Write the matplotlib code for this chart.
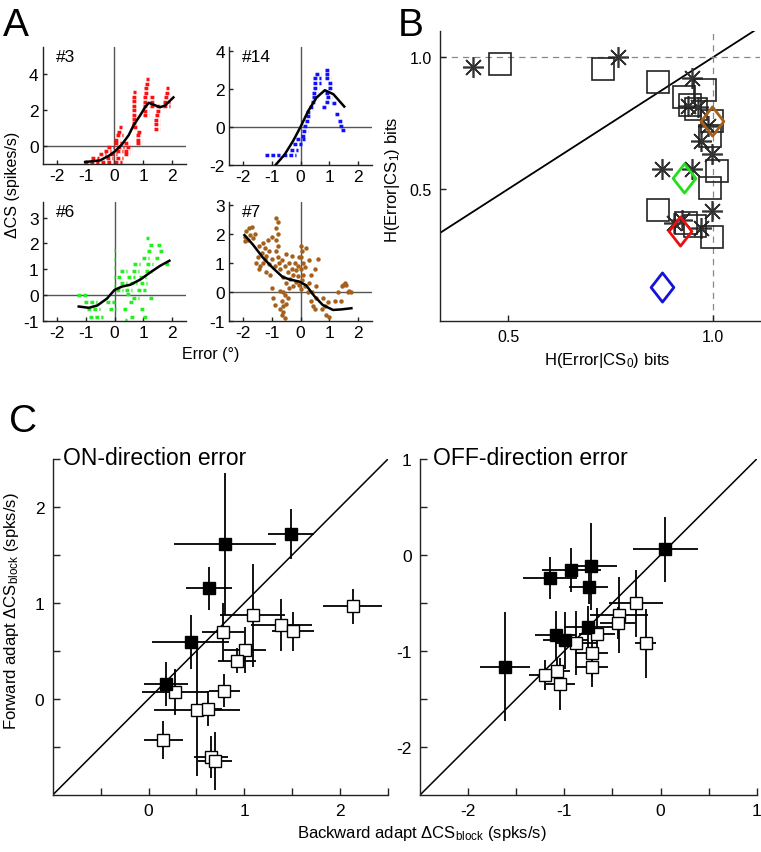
import matplotlib
matplotlib.use("Agg")
import matplotlib.pyplot as plt
from matplotlib.path import Path

plt.rcParams['font.family'] = ['Liberation Sans', 'DejaVu Sans']
plt.rcParams['mathtext.fontset'] = 'custom'
plt.rcParams['mathtext.rm'] = 'Liberation Sans'
plt.rcParams['mathtext.it'] = 'Liberation Sans:italic'
plt.rcParams['xtick.direction'] = 'in'
plt.rcParams['ytick.direction'] = 'in'
plt.rcParams['axes.unicode_minus'] = False

# ---------------- Panel A data ----------------
# dot rows (x start, x end, y) and smoothed curves
rows_3 = [(-1.05, -0.55, -0.88), (-0.45, -0.1, -0.88), (0.0, 0.25, -0.88),
          (-0.8, -0.55, -0.65), (-0.3, -0.05, -0.65), (0.05, 0.3, -0.65),
          (-0.55, -0.3, -0.45), (-0.15, 0.1, -0.45), (0.35, 0.55, -0.45),
          (-0.35, -0.1, -0.25), (0.05, 0.3, -0.25), (0.35, 0.55, -0.25),
          (-0.25, 0.0, -0.05), (0.1, 0.35, -0.05), (0.4, 0.6, -0.05),
          (0.0, 0.25, 0.15), (0.35, 0.55, 0.15), (0.75, 0.9, 0.15),
          (0.0, 0.2, 0.35), (0.75, 0.95, 0.35), (0.05, 0.3, 0.6), (0.75, 0.9, 0.6),
          (0.1, 0.25, 0.8), (0.8, 0.95, 0.8), (0.15, 0.25, 1.05), (0.65, 0.8, 1.05),
          (0.6, 0.8, 1.3), (0.6, 0.75, 1.5), (0.6, 0.75, 1.75), (0.6, 0.75, 2.0),
          (0.6, 0.75, 2.25), (0.6, 0.75, 2.5), (0.62, 0.75, 2.75), (0.65, 0.75, 3.0),
          (1.0, 1.2, 1.7), (1.0, 1.2, 1.95), (1.0, 1.2, 2.2), (1.0, 1.2, 2.45),
          (1.0, 1.2, 2.7), (1.05, 1.2, 2.95), (1.05, 1.2, 3.2), (1.08, 1.2, 3.45),
          (1.1, 1.2, 3.75), (1.25, 1.4, 2.2), (1.25, 1.4, 2.45), (1.25, 1.4, 2.7),
          (1.4, 1.6, 0.95), (1.4, 1.6, 1.2), (1.4, 1.6, 1.45), (1.42, 1.6, 1.7),
          (1.45, 1.6, 1.95), (1.45, 1.6, 2.2), (1.7, 1.95, 2.2), (1.7, 1.95, 2.45),
          (1.72, 1.95, 2.7), (1.75, 1.9, 2.95), (1.8, 1.9, 3.2)]
curve_3_x = [-1.02, -0.5, -0.2, 0.02, 0.26, 0.5, 0.67, 0.9, 1.07, 1.2, 1.36, 1.59, 1.77, 2.06]
curve_3_y = [-0.89, -0.8, -0.55, -0.3, 0.08, 0.6, 1.15, 1.7, 2.15, 2.4, 2.3, 2.15, 2.25, 2.7]

rows_14 = [(-1.25, -0.7, -1.45), (-0.6, -0.15, -1.45), (-0.35, -0.1, -1.2),
           (-0.25, 0.05, -0.9), (-0.15, 0.15, -0.65), (0.0, 0.2, -0.45),
           (0.05, 0.25, -0.2), (0.1, 0.25, 0.05), (0.15, 0.3, 0.3),
           (0.2, 0.35, 0.55), (0.2, 0.35, 0.8), (0.3, 0.45, 1.05), (0.75, 0.9, 1.05),
           (0.35, 0.5, 1.3), (0.85, 1.05, 1.3), (0.4, 0.6, 1.55), (0.9, 1.1, 1.55),
           (0.4, 0.6, 1.8), (0.85, 1.05, 1.8), (0.45, 0.65, 2.05), (0.95, 1.15, 2.05),
           (0.45, 0.7, 2.3), (0.95, 1.15, 2.3), (0.45, 0.7, 2.55), (0.85, 1.05, 2.55),
           (0.5, 0.7, 2.8), (0.85, 1.0, 2.8), (0.85, 1.0, 3.0), (1.1, 1.25, 1.25),
           (1.2, 1.35, 0.7), (1.3, 1.45, 0.3), (1.35, 1.5, 0.05), (1.4, 1.55, -0.15)]
curve_14_x = [-0.9, -0.55, -0.26, 0.0, 0.27, 0.56, 0.85, 1.15, 1.53]
curve_14_y = [-2.05, -1.44, -0.74, 0.0, 0.84, 1.54, 1.93, 1.72, 1.07]

rows_6 = [(-1.3, -0.9, 0.0), (-1.05, -0.6, -0.27), (-0.3, 0.0, -0.27), (0.5, 0.7, -0.27),
          (-0.95, -0.5, -0.55), (-0.2, 0.05, -0.55), (0.3, 0.5, -0.55), (0.9, 1.1, -0.55),
          (-0.9, -0.4, -0.85), (0.55, 0.7, -0.85), (1.0, 1.2, -0.85),
          (-0.03, 0.03, 1.75), (-0.03, 0.03, 1.4), (-0.03, 0.03, 1.05),
          (-0.03, 0.03, 0.7), (-0.03, 0.03, 0.35), (0.35, 0.45, -0.95),
          (0.05, 0.3, 0.2), (0.35, 0.6, 0.2), (0.8, 1.1, 0.2),
          (0.2, 0.45, 0.45), (0.55, 0.8, 0.45), (0.9, 1.15, 0.45),
          (0.1, 0.3, 0.7), (0.45, 0.7, 0.7), (0.85, 1.1, 0.7),
          (0.2, 0.45, 0.95), (0.6, 0.85, 0.95), (1.05, 1.3, 0.95),
          (0.65, 0.9, 1.2), (1.1, 1.35, 1.2), (1.75, 1.95, 1.2),
          (0.95, 1.2, 1.45), (1.4, 1.6, 1.45), (1.15, 1.35, 1.7), (1.55, 1.75, 1.7),
          (1.2, 1.4, 1.95), (1.5, 1.7, 1.95), (1.1, 1.2, 2.2),
          (0.6, 0.85, -0.1), (1.2, 1.4, -0.1), (0.4, 0.6, 0.05)]
curve_6_x = [-1.25, -0.9, -0.6, -0.26, 0.0, 0.26, 0.55, 0.9, 1.24, 1.59, 1.92]
curve_6_y = [-0.44, -0.49, -0.4, -0.13, 0.2, 0.33, 0.4, 0.6, 0.87, 1.13, 1.33]

pts_7_x = [-1.95, -1.9, -1.85, -1.8, -1.75, -1.7, -1.65, -1.6, -1.95,
           -1.5, -1.45, -1.4, -1.35, -1.3, -1.25, -1.2, -1.2, -1.15, -1.1, -1.1, -1.05,
           -1.0, -1.0, -1.55, -1.45, -1.3, -1.25,
           -0.85, -0.8, -0.85, -0.8, -0.85, -0.8, -0.85, -0.8, -0.75, -0.9,
           -0.7, -0.65, -0.6, -0.55, -0.5, -0.45, -0.4, -0.4, -0.35, -0.3, -0.25,
           -0.25, -0.2, -0.15, -0.15, -0.1, -0.1, -0.05, -0.05, -0.3, -0.5,
           -1.0, -0.95, -0.7, -0.65, -0.6, -0.6, -0.55, -0.55, -0.65, -0.5, -0.45,
           -0.7, -0.6, -0.9,
           0.0, 0.05, 0.0, 0.1, 0.0, 0.1, 0.05, 0.15, 0.0, 0.2, 0.15,
           0.3, 0.35, 0.3, 0.4, 0.35, 0.45, 0.5, 0.55, 0.6, 0.55, 0.5, 0.25,
           0.8, 0.85, 0.9, 0.95, 1.0, 0.75,
           1.3, 1.45, 1.5, 1.55, 1.6, 1.65, 1.7, 1.75, 1.4, 1.2]
pts_7_y = [1.9, 2.1, 1.8, 2.2, 1.95, 2.25, 1.85, 2.0, 1.75,
           1.2, 1.6, 0.9, 1.35, 1.0, 1.5, 0.7, 1.25, 1.8, 0.95, 1.4, 0.6,
           1.15, 1.9, 1.0, 0.8, 1.7, 1.15,
           2.55, 2.4, 2.2, 2.0, 1.8, 1.6, 1.4, 1.2, 1.0, 0.9,
           0.8, 1.1, 0.5, 0.9, 0.3, 0.7, 0.15, 1.0, 0.45, 0.8, 0.2,
           0.6, 1.0, 0.35, 0.75, 0.55, 0.9, 0.25, 1.2, 1.25, 1.3,
           0.15, -0.2, 0.05, -0.3, -0.5, -0.7, -0.1, -0.9, -0.8, -0.4, -0.2,
           -0.6, 0.0, -0.45,
           1.6, 1.4, 1.2, 1.0, 0.8, 0.6, 0.4, 0.2, 0.1, 1.5, 0.85,
           1.1, 0.6, 0.3, 0.0, -0.3, -0.5, 0.8, 0.2, 1.15, -0.2, -0.6, 0.0,
           -0.2, -0.5, -0.8, -0.35, -0.85, -0.6,
           0.0, 0.2, 0.25, 0.3, 0.25, 0.0, 0.05, 0.0, -0.3, -0.3]
curve_7_x = [-1.96, -1.67, -1.32, -0.97, -0.62, -0.33, -0.05, 0.2, 0.49, 0.78, 1.14, 1.43, 1.78]
curve_7_y = [1.96, 1.64, 1.19, 0.83, 0.51, 0.42, 0.36, 0.23, -0.15, -0.45, -0.62, -0.6, -0.56]

a_xticks = [-2, -1, 0, 1, 2]
a_yticks_3 = [0, 2, 4]
a_yticks_14 = [-2, 0, 2, 4]
a_yticks_6 = [-1, 0, 1, 2, 3]
a_yticks_7 = [-1, 0, 1, 2, 3]

# ---------------- Panel B data ----------------
star_x = [0.414, 0.769, 0.948, 0.94, 0.964, 0.989, 0.972, 0.997, 0.875, 0.948, 0.997, 0.924, 0.972, 0.905]
star_y = [0.963, 1.0, 0.922, 0.817, 0.81, 0.74, 0.683, 0.633, 0.575, 0.575, 0.416, 0.384, 0.352, 0.37]
sq_x = [0.48, 0.731, 0.867, 0.98, 0.929, 0.959, 0.945, 0.997, 0.993, 1.01, 0.993, 0.867, 0.935, 0.956, 0.997]
sq_y = [0.976, 0.957, 0.906, 0.877, 0.849, 0.804, 0.82, 0.76, 0.702, 0.569, 0.505, 0.422, 0.37, 0.359, 0.32]
dia_x = [0.999, 0.929, 0.92, 0.877]
dia_y = [0.757, 0.543, 0.34, 0.13]
dia_col = ['#a5611c', '#22e01e', '#e81010', '#1414d8']

# ---------------- Panel C data ----------------
on_fill_x = [1.483, 0.797, 0.631, 0.44, 0.18]
on_fill_y = [1.719, 1.614, 1.152, 0.597, 0.159]
on_fill_xerr = [0.24, 0.53, 0.24, 0.4, 0.23]
on_fill_yerr = [0.26, 0.74, 0.22, 0.28, 0.23]
on_open_x = [0.277, 0.79, 0.51, 0.62, 0.156, 0.652, 0.693, 0.78, 1.09, 1.005, 0.925, 1.387, 1.507, 2.13]
on_open_y = [0.069, 0.086, -0.118, -0.10, -0.43, -0.608, -0.643, 0.70, 0.871, 0.513, 0.40, 0.767, 0.704, 0.965]
on_open_xerr = [0.35, 0.16, 0.45, 0.15, 0.2, 0.18, 0.18, 0.22, 0.34, 0.22, 0.2, 0.32, 0.22, 0.31]
on_open_yerr = [0.24, 0.17, 0.68, 0.18, 0.2, 0.22, 0.3, 0.3, 0.54, 0.24, 0.13, 0.27, 0.2, 0.18]

off_fill_x = [0.05, -1.152, -0.926, -0.724, -0.748, -0.755, -1.09, -0.988, -1.62]
off_fill_y = [0.06, -0.243, -0.156, -0.118, -0.33, -0.747, -0.83, -0.89, -1.163]
off_fill_xerr = [0.34, 0.28, 0.31, 0.27, 0.2, 0.25, 0.21, 0.23, 0.26]
off_fill_yerr = [0.34, 0.22, 0.23, 0.45, 0.18, 0.22, 0.25, 0.3, 0.57]
off_open_x = [-0.257, -0.43, -0.446, -0.66, -0.875, -0.154, -0.714, -0.714, -1.08, -1.20, -1.04]
off_open_y = [-0.503, -0.625, -0.71, -0.82, -0.917, -0.92, -1.02, -1.17, -1.205, -1.25, -1.34]
off_open_xerr = [0.28, 0.3, 0.18, 0.19, 0.22, 0.11, 0.17, 0.17, 0.14, 0.17, 0.15]
off_open_yerr = [0.35, 0.4, 0.17, 0.27, 0.33, 0.36, 0.25, 0.2, 0.13, 0.16, 0.27]

c_on_ticks = [0, 1, 2]
c_on_minor = [-0.5, 0.5, 1.5, 2.5]
c_off_ticks = [-2, -1, 0, 1]
c_off_minor = [-1.5, -0.5, 0.5]

# ---------------- Figure ----------------
W, H = 761, 853
fig = plt.figure(figsize=(W / 100, H / 100), dpi=100)


def add_ax(l, t, r, b):
    return fig.add_axes([l / W, 1 - b / H, (r - l) / W, (b - t) / H])


def style(ax, fs, pad, length=3.5):
    for s in ('top', 'right'):
        ax.spines[s].set_visible(False)
    for s in ('left', 'bottom'):
        ax.spines[s].set_linewidth(1.0)
        ax.spines[s].set_color('#222222')
    ax.tick_params(labelsize=fs, length=length, width=1.0, pad=pad, color='#222222')


def panel_a(ax, rows, cx, cy, color, ylim, yticks, tag):
    ax.axhline(0, color='#555555', lw=1.0, zorder=1)
    ax.axvline(0, color='#555555', lw=1.0, zorder=1)
    for x0, x1, y in rows:
        ax.plot([x0, x1], [y, y], color=color, lw=2.5, ls=(0, (1.1, 0.6)),
                dash_capstyle='butt', zorder=2)
    ax.plot(cx, cy, color='k', lw=1.8, zorder=3)
    ax.set_xlim(-2.5, 2.5)
    ax.set_ylim(*ylim)
    ax.set_xticks(a_xticks)
    ax.set_yticks(yticks)
    style(ax, 12.5, 3, 3)
    ax.text(0.09, 0.92, tag, transform=ax.transAxes, fontsize=12.5, va='center')


ax3 = add_ax(42.7, 48, 186, 165)
panel_a(ax3, rows_3, curve_3_x, curve_3_y, '#ff1010', (-1, 5.5), a_yticks_3, '#3')
ax14 = add_ax(229, 48, 372, 166)
panel_a(ax14, rows_14, curve_14_x, curve_14_y, '#1010ff', (-2, 4.2), a_yticks_14, '#14')
ax6 = add_ax(43, 203, 186, 322)
panel_a(ax6, rows_6, curve_6_x, curve_6_y, '#22ee22', (-1, 3.6), a_yticks_6, '#6')
ax7 = add_ax(229, 203, 372, 322)
panel_a(ax7, [], curve_7_x, curve_7_y, '#a5611c', (-1, 3.1), a_yticks_7, '#7')
ax7.plot(pts_7_x, pts_7_y, 'o', ms=3.2, color='#a5611c', mec='none', zorder=2)

fig.text(13 / W, 1 - 185 / H, 'ΔCS (spikes/s)', rotation=90, fontsize=11.5,
         ha='center', va='center')
fig.text(211 / W, 1 - 355 / H, 'Error (°)', fontsize=11.5, ha='center', va='center')

# ---- B ----
axb = add_ax(440, 32, 760, 322)
axb.set_xlim(0.334, 1.115)
axb.set_ylim(0.0, 1.1)
axb.plot([0.334, 1.115], [0.334, 1.115], color='k', lw=1.3, zorder=1)
axb.axhline(1.0, color='#888888', lw=0.9, ls=(0, (5, 4)), zorder=1)
axb.axvline(1.0, color='#888888', lw=0.9, ls=(0, (5, 4)), zorder=1)
axb.plot(star_x, star_y, ls='none', marker=(8, 2, 0), ms=15, mew=1.2,
         color='#333333', zorder=3)
axb.plot(sq_x, sq_y, ls='none', marker='s', ms=15.5, mfc='none', mec='#222222',
         mew=1.2, zorder=3)
dia_marker = Path([(0, 1), (0.78, 0), (0, -1), (-0.78, 0), (0, 1)],
                  [Path.MOVETO, Path.LINETO, Path.LINETO, Path.LINETO, Path.CLOSEPOLY])
for x, y, c in zip(dia_x, dia_y, dia_col):
    axb.plot([x], [y], ls='none', marker=dia_marker, ms=21, mfc='none', mec=c,
             mew=2.0, zorder=4)
axb.set_xticks([0.5, 1.0])
axb.set_xticklabels(['0.5', '1.0'])
axb.set_yticks([0.5, 1.0])
axb.set_yticklabels(['0.5', '1.0'])
style(axb, 11.5, 6, 4)
fig.text(607 / W, 1 - 360 / H, 'H(Error|CS$_0$) bits', fontsize=12,
         ha='center', va='center')
fig.text(392 / W, 1 - 180 / H, 'H(Error|CS$_1$) bits', fontsize=12, rotation=90,
         ha='center', va='center')

# ---- C ----
def panel_c(ax, lim, fx, fy, fxe, fye, ox, oy, oxe, oye, ticks, minor, title):
    ax.plot(lim, lim, color='k', lw=1.1, zorder=1)
    ax.errorbar(ox, oy, xerr=oxe, yerr=oye, fmt='none', ecolor='k', elinewidth=1.3,
                capsize=0, zorder=2)
    ax.errorbar(fx, fy, xerr=fxe, yerr=fye, fmt='none', ecolor='k', elinewidth=1.3,
                capsize=0, zorder=2)
    ax.plot(ox, oy, ls='none', marker='s', ms=8.5, mfc='white', mec='k', mew=1.0, zorder=3)
    ax.plot(fx, fy, ls='none', marker='s', ms=9, mfc='k', mec='k', mew=1.0, zorder=3)
    ax.set_xlim(*lim)
    ax.set_ylim(*lim)
    ax.set_xticks(ticks)
    ax.set_yticks(ticks)
    ax.set_xticks(minor, minor=True)
    ax.set_yticks(minor, minor=True)
    style(ax, 12.5, 6, 5)
    ax.tick_params(which='minor', length=5, width=1.0, color='#222222')
    ax.text(0.03, 1.005, title, transform=ax.transAxes, fontsize=16.5, va='center')


axc1 = add_ax(52.7, 460, 388, 796)
panel_c(axc1, (-1, 2.5), on_fill_x, on_fill_y, on_fill_xerr, on_fill_yerr,
        on_open_x, on_open_y, on_open_xerr, on_open_yerr,
        c_on_ticks, c_on_minor, 'ON-direction error')
axc2 = add_ax(420, 460, 756.7, 796)
panel_c(axc2, (-2.5, 1), off_fill_x, off_fill_y, off_fill_xerr, off_fill_yerr,
        off_open_x, off_open_y, off_open_xerr, off_open_yerr,
        c_off_ticks, c_off_minor, 'OFF-direction error')
axc2.texts[0].set_x(0.04)

fig.text(12 / W, 1 - 611 / H, r'Forward adapt ΔCS$_{\mathrm{block}}$ (spks/s)',
         rotation=90, fontsize=12, ha='center', va='center')
fig.text(422 / W, 1 - 834 / H, r'Backward adapt ΔCS$_{\mathrm{block}}$ (spks/s)',
         fontsize=12, ha='center', va='center')

# panel letters
fig.text(16 / W, 1 - 36 / H, 'A', fontsize=28, ha='center', va='baseline')
fig.text(411 / W, 1 - 36 / H, 'B', fontsize=28, ha='center', va='baseline')
fig.text(23 / W, 1 - 432 / H, 'C', fontsize=28, ha='center', va='baseline')

fig.savefig('out.png', dpi=100)
